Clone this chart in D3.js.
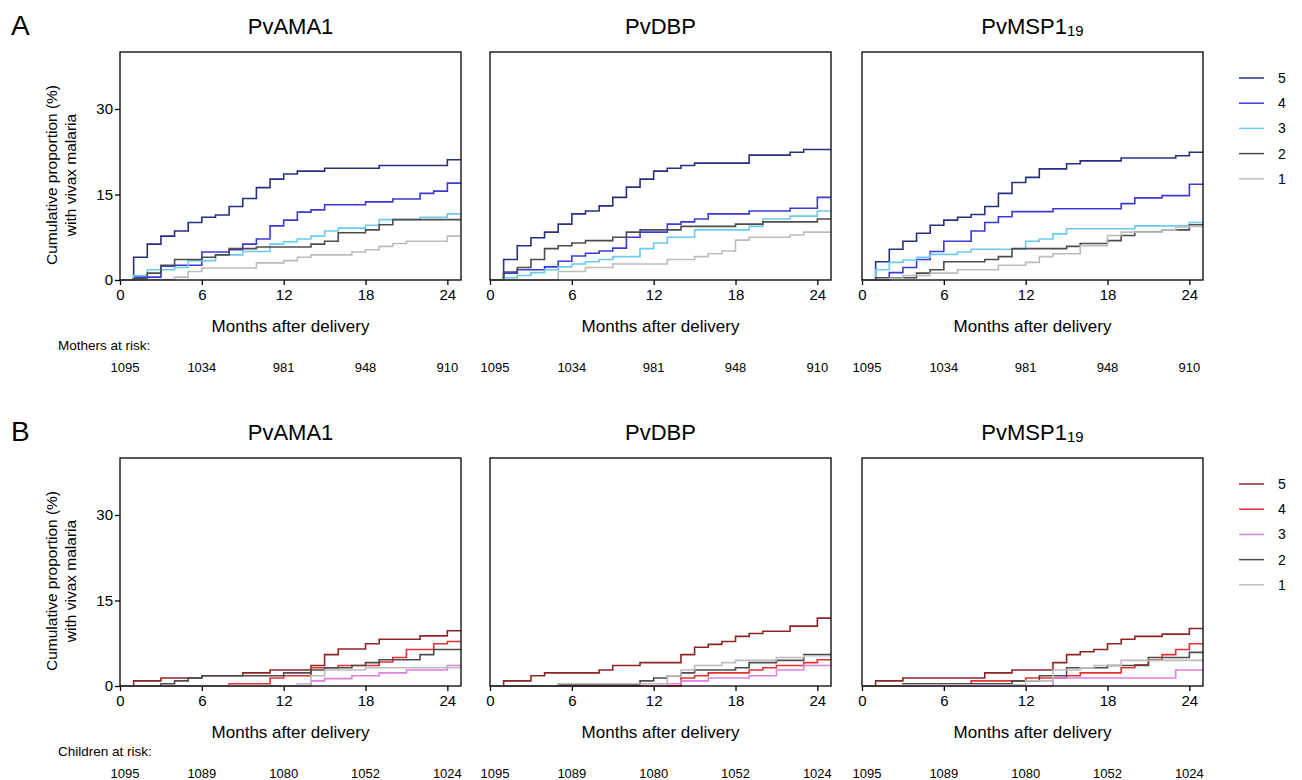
<!DOCTYPE html>
<meta charset="utf-8">
<style>
body { margin: 0; background: #fff; }
text { font-family: "Liberation Sans", Arial, sans-serif; fill: #000; }
.frame { fill: none; stroke: #000; stroke-width: 1.3px; }
.km { fill: none; stroke-width: 1.6px; }
.axis path, .axis line { stroke: #000; stroke-width: 1.3px; }
.axis text { font-size: 15px; }
</style>
<svg width="1302" height="780"></svg>
<script src="https://cdn.jsdelivr.net/npm/d3@7"></script>
<script>
var width = 1302, height = 780;

var antigens = ["PvAMA1", "PvDBP", "PvMSP1"];
var levels = [5, 4, 3, 2, 1];
var xTicks = [0, 6, 12, 18, 24];
var yTicks = [0, 15, 30];
var mothersAtRisk = [1095, 1034, 981, 948, 910];
var childrenAtRisk = [1095, 1089, 1080, 1052, 1024];
var colorsA = ["#27307f", "#3a3ad8", "#6ccaee", "#4d4d4d", "#bcbcbc"];
var colorsB = ["#8e2424", "#e5312f", "#de80de", "#4d4d4d", "#bcbcbc"];

// [month, cumulative %] steps, order: level 5,4,3,2,1
var motherAMA = [
  [[1,4.0],[2,6.3],[3,7.7],[4,8.6],[5,10.1],[6,11.0],[7,11.4],[8,12.9],[9,14.3],[10,16.2],[11,17.7],[12,18.6],[13,19.1],[15,19.6],[19,20.1],[24,21.1]],
  [[1,0.5],[3,2.4],[4,2.6],[6,4.9],[8,5.3],[9,6.3],[10,7.2],[11,9.5],[12,10.5],[13,11.9],[14,12.3],[15,13.2],[18,13.7],[20,14.2],[22,15.2],[23,15.6],[24,17.0]],
  [[1,0.8],[2,1.8],[4,2.2],[5,3.4],[7,4.4],[9,5.0],[11,6.3],[12,6.7],[13,7.2],[14,7.7],[15,8.6],[16,9.1],[18,9.6],[19,10.6],[22,11.0],[24,11.6]],
  [[1,0.2],[2,1.2],[3,2.6],[4,3.6],[6,4.0],[7,4.4],[8,5.5],[10,5.8],[14,6.3],[15,6.8],[16,8.3],[18,8.8],[19,9.7],[20,10.6]],
  [[2,0.1],[4,0.5],[5,1.5],[6,2.1],[10,3.0],[12,3.4],[13,4.0],[14,4.4],[17,4.9],[18,5.3],[19,5.9],[20,6.4],[21,6.8],[24,7.7]]
];
var motherDBP = [
  [[1,3.6],[2,6.0],[3,7.4],[4,8.4],[5,9.8],[6,11.6],[7,12.1],[8,13.0],[9,14.5],[10,16.3],[11,17.7],[12,19.1],[13,19.6],[14,20.1],[15,20.5],[19,21.9],[22,22.4],[23,22.9]],
  [[1,1.2],[2,1.8],[4,2.3],[5,3.3],[6,4.2],[7,4.7],[8,5.1],[9,5.6],[10,7.5],[11,8.4],[13,9.8],[14,10.2],[15,10.7],[16,11.6],[19,12.1],[22,12.6],[24,14.5]],
  [[1,0.4],[2,0.8],[3,1.3],[4,1.8],[5,2.3],[6,2.8],[7,3.2],[8,3.6],[9,4.1],[11,5.5],[12,6.5],[13,7.5],[15,8.8],[19,9.4],[20,10.7],[22,11.2],[24,12.1]],
  [[1,1.4],[2,2.2],[3,3.6],[4,5.5],[5,6.0],[6,6.5],[7,6.9],[9,7.5],[10,8.4],[11,8.8],[14,9.4],[18,9.8],[20,10.2],[24,10.7]],
  [[5,1.5],[7,2.2],[9,2.8],[13,3.6],[15,4.1],[16,4.6],[17,5.1],[18,7.0],[19,7.5],[22,7.9],[23,8.4]]
];
var motherMSP = [
  [[1,3.2],[2,5.4],[3,6.8],[4,8.2],[5,9.6],[6,10.5],[7,11.0],[8,11.5],[9,12.9],[10,15.2],[11,17.1],[12,18.0],[13,19.5],[15,20.4],[16,20.9],[19,21.4],[23,21.8],[24,22.4]],
  [[2,1.3],[3,2.2],[4,3.6],[5,5.0],[6,6.8],[8,8.6],[9,10.1],[10,11.1],[11,12.0],[14,12.5],[19,13.4],[20,14.4],[22,14.8],[24,16.8]],
  [[1,1.8],[2,3.1],[3,3.5],[4,4.0],[5,4.5],[7,4.9],[8,5.4],[12,6.8],[13,7.2],[14,8.1],[15,9.0],[20,9.5],[24,10.1]],
  [[1,0.4],[4,1.2],[5,1.8],[6,3.2],[9,3.6],[10,4.1],[11,5.5],[15,5.9],[16,6.4],[18,6.9],[19,7.8],[20,8.4],[22,8.8],[24,9.7]],
  [[2,0.3],[3,0.8],[5,1.2],[7,1.8],[10,2.6],[12,3.1],[13,4.1],[14,4.6],[16,6.0],[18,7.8],[19,8.4],[22,8.8],[23,9.3],[24,9.4]]
];
var childAMA = [
  [[1,0.9],[3,1.4],[6,1.8],[9,2.3],[11,2.8],[14,3.6],[15,5.5],[16,6.5],[18,7.4],[19,8.2],[22,8.8],[24,9.7]],
  [[8,0.4],[11,1.4],[12,1.8],[14,3.2],[16,3.6],[19,4.2],[20,5.0],[21,6.4],[23,7.4],[24,7.8]],
  [[14,0.9],[15,1.3],[17,1.8],[19,2.3],[21,2.8],[24,3.6]],
  [[3,0.4],[4,0.9],[5,1.4],[6,1.8],[12,2.3],[14,2.8],[15,3.2],[17,3.6],[18,4.1],[19,4.6],[22,5.5],[23,6.4]],
  [[13,0.4],[14,1.8],[15,2.8],[18,3.2]]
];
var childDBP = [
  [[1,0.9],[3,1.8],[4,2.3],[8,2.8],[9,3.6],[11,4.1],[14,5.5],[15,6.8],[16,7.3],[17,7.8],[18,8.7],[19,9.2],[20,9.6],[22,10.5],[24,11.9]],
  [[14,1.4],[15,1.8],[16,2.3],[19,2.8],[20,3.2],[21,3.6],[23,4.1],[24,4.6]],
  [[6,0.1],[13,0.4],[14,0.9],[16,1.4],[19,1.8],[21,2.8],[23,3.6]],
  [[5,0.2],[11,0.9],[12,1.4],[13,1.8],[14,2.3],[15,2.8],[18,3.2],[19,4.1],[21,4.5],[23,5.5]],
  [[5,0.4],[13,1.8],[14,2.8],[15,3.6],[17,4.1],[18,4.5],[21,5.0],[23,5.3]]
];
var childMSP = [
  [[1,0.9],[3,1.4],[9,2.3],[11,2.8],[14,4.1],[15,5.5],[16,6.0],[17,6.4],[18,7.4],[19,8.2],[20,8.7],[22,9.1],[24,10.1]],
  [[4,0.3],[8,0.9],[12,1.4],[15,1.8],[16,2.3],[19,3.2],[20,3.7],[21,4.6],[22,5.5],[23,6.4],[24,7.4]],
  [[14,1.4],[23,2.8]],
  [[3,0.4],[11,0.9],[13,1.8],[15,3.2],[18,3.6],[21,5.0],[24,5.9]],
  [[3,0.2],[12,0.9],[14,2.8],[16,3.2],[17,3.6],[19,4.5]]
];

var svg = d3.select("svg");

var panelX = [120, 490, 862], panelW = 341;
var rows = [
  {letter: "A", top: 52, data: [motherAMA, motherDBP, motherMSP], colors: colorsA, riskLabel: "Mothers at risk:", risk: mothersAtRisk},
  {letter: "B", top: 458, data: [childAMA, childDBP, childMSP], colors: colorsB, riskLabel: "Children at risk:", risk: childrenAtRisk}
];
var plotH = 228;

var x = d3.scaleLinear().domain([0, 25]).range([0, panelW]);
var y = d3.scaleLinear().domain([0, 40]).range([plotH, 0]);

var line = d3.line()
    .x(function(d) { return x(d[0]); })
    .y(function(d) { return y(d[1]); })
    .curve(d3.curveStepAfter);

rows.forEach(function(row) {
  svg.append("text")
      .attr("x", 11).attr("y", row.top - 17)
      .style("font-size", "28px")
      .text(row.letter);

  var yl = svg.append("text")
      .attr("transform", "translate(57," + (row.top + 123) + ") rotate(-90)")
      .attr("text-anchor", "middle")
      .style("font-size", "15.5px");
  yl.append("tspan").attr("x", 0).attr("dy", 0).text("Cumulative proportion (%)");
  yl.append("tspan").attr("x", 0).attr("dy", "1.2em").text("with vivax malaria");

  svg.append("text")
      .attr("x", 58).attr("y", row.top + 298)
      .style("font-size", "13.5px")
      .text(row.riskLabel);

  row.data.forEach(function(panel, p) {
    var g = svg.append("g")
        .attr("transform", "translate(" + panelX[p] + "," + row.top + ")");

    var title = g.append("text")
        .attr("x", panelW / 2).attr("y", -18)
        .attr("text-anchor", "middle")
        .style("font-size", "22px")
        .text(antigens[p]);
    if (p === 2) {
      title.append("tspan").attr("dy", 2).style("font-size", "15px").text("19");
    }

    g.append("g").attr("class", "axis")
        .attr("transform", "translate(0," + plotH + ")")
        .call(d3.axisBottom(x).tickValues(xTicks).tickSize(5).tickSizeOuter(0).tickPadding(4))
        .select(".domain").remove();

    var ya = d3.axisLeft(y).tickValues(yTicks).tickSize(5).tickSizeOuter(0).tickPadding(2);
    if (p === 0) {
      g.append("g").attr("class", "axis").call(ya).select(".domain").remove();
    }

    panel.forEach(function(s, i) {
      var pts = [[0, 0]].concat(s);
      pts.push([25, s[s.length - 1][1]]);
      g.append("path")
          .datum(pts)
          .attr("class", "km")
          .attr("stroke", row.colors[i])
          .attr("d", line);
    });

    g.append("rect").attr("class", "frame")
        .attr("width", panelW).attr("height", plotH);

    g.append("text")
        .attr("x", panelW / 2).attr("y", plotH + 52)
        .attr("text-anchor", "middle")
        .style("font-size", "17px")
        .text("Months after delivery");

    g.selectAll(".risk")
        .data(row.risk)
        .enter().append("text")
        .attr("class", "risk")
        .attr("x", function(d, i) { return x(xTicks[i]) + (i === 0 ? 5 : 0); })
        .attr("y", plotH + 92)
        .attr("text-anchor", "middle")
        .style("font-size", "13px")
        .text(function(d) { return d; });
  });

  var leg = svg.append("g").attr("transform", "translate(1239," + (row.top + 26) + ")");
  levels.forEach(function(lv, i) {
    leg.append("line")
        .attr("x1", 0).attr("x2", 25)
        .attr("y1", i * 25.2).attr("y2", i * 25.2)
        .attr("stroke", row.colors[i]).attr("stroke-width", 1.5);
    leg.append("text")
        .attr("x", 39).attr("y", i * 25.2 + 5)
        .style("font-size", "14px")
        .text(lv);
  });
});
</script>
